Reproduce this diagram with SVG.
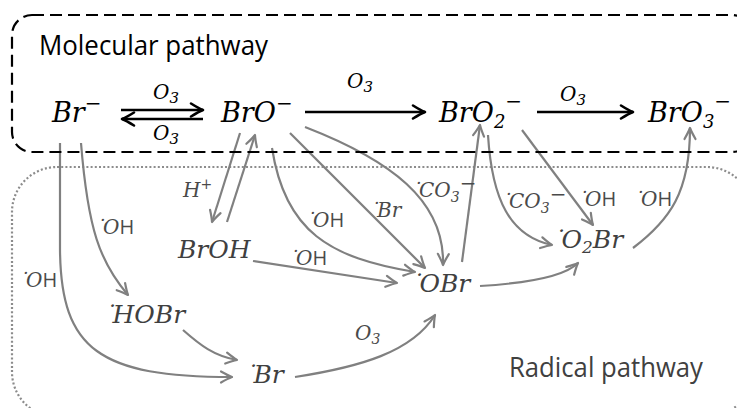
<svg xmlns="http://www.w3.org/2000/svg" width="737" height="408" viewBox="0 0 737 408">
  <style>
    .mol { font-family: "DejaVu Serif", serif; font-style: italic; font-size: 27px; fill: #000; }
    .rad { font-family: "DejaVu Serif", serif; font-style: italic; font-size: 25px; fill: #404040; }
    .lbl { font-family: "DejaVu Serif", serif; font-style: italic; font-size: 20px; fill: #4a4a4a; }
    .lblk { font-family: "DejaVu Serif", serif; font-style: italic; font-size: 20px; fill: #000; }
    .sans { font-family: "Open Sans", "Liberation Sans", sans-serif; font-style: normal; }
    .title { font-family: "Open Sans", "Liberation Sans", sans-serif; font-size: 27px; }
    .ld { letter-spacing: -3px; }
    .rd { letter-spacing: -4px; }
    .gc { fill: none; stroke: #808080; stroke-width: 2.2; marker-end: url(#ag); }
    .bc { fill: none; stroke: #000; stroke-width: 2.6; marker-end: url(#ab); }
  </style>
  <defs>
    <marker id="ag" viewBox="-13 -8 16 16" markerWidth="16" markerHeight="16" refX="0" refY="0" orient="auto" markerUnits="userSpaceOnUse">
      <path d="M-11,-5.5 Q-4,-1.5 0,0 Q-4,1.5 -11,5.5" fill="none" stroke="#808080" stroke-width="2.2" stroke-linecap="round" stroke-linejoin="round"/>
    </marker>
    <marker id="ab" viewBox="-15 -9 18 18" markerWidth="18" markerHeight="18" refX="0" refY="0" orient="auto" markerUnits="userSpaceOnUse">
      <path d="M-12,-6.5 Q-4,-1.5 0,0 Q-4,1.5 -12,6.5" fill="none" stroke="#000" stroke-width="2.6" stroke-linecap="round" stroke-linejoin="round"/>
    </marker>
  </defs>

  <!-- pathway frames -->
  <g id="radical-frame">
    <rect x="12" y="167" width="740" height="250" rx="45" ry="45" fill="none" stroke="#8c8c8c" stroke-width="2.2" stroke-dasharray="2 2.2"/>
    <text class="title" x="509" y="377" fill="#404040" textLength="194" lengthAdjust="spacingAndGlyphs">Radical pathway</text>
  </g>

  <!-- connectors -->
  <g id="connectors">
    <!-- molecular (ozone) steps -->
    <path class="bc" d="M121,110 L203,110"/>
    <path class="bc" d="M203,119 L122,119"/>
    <path class="bc" d="M305,112 L425,112"/>
    <path class="bc" d="M537,112 L633,112"/>
    <!-- radical steps -->
    <path class="gc" d="M60,143 L60,250 C61,350 100,377 232,377"/>
    <path class="gc" d="M81,143 C88,230 100,262 128,295"/>
    <path class="gc" d="M183,330 C200,345 214,356 237,360"/>
    <path class="gc" d="M295,377 C360,367 412,352 435,315"/>
    <path class="gc" d="M240,133 L212,222"/>
    <path class="gc" d="M227,222 L255,135"/>
    <path class="gc" d="M272,148 C285,232 330,258 415,272"/>
    <path class="gc" d="M253,261 L397,283"/>
    <path class="gc" d="M290,133 L425,268"/>
    <path class="gc" d="M305,127 C390,160 445,200 443,265"/>
    <path class="gc" d="M462,262 L480,125"/>
    <path class="gc" d="M488,135 C492,200 510,236 552,245"/>
    <path class="gc" d="M522,130 L593,225"/>
    <path class="gc" d="M480,286 C530,283 565,276 578,263"/>
    <path class="gc" d="M633,248 C670,220 690,192 690,128"/>
  </g>

  <g id="molecular-frame">
    <rect x="12" y="15" width="740" height="137" rx="20" ry="20" fill="none" stroke="#000" stroke-width="2.2" stroke-dasharray="12 6"/>
    <text class="title" x="39" y="55" fill="#000" textLength="229" lengthAdjust="spacingAndGlyphs">Molecular pathway</text>
  </g>

  <!-- reaction labels -->
  <g id="labels">
    <text class="lblk" x="153" y="99">O<tspan font-size="15" dy="4">3</tspan></text>
    <text class="lblk" x="153" y="140">O<tspan font-size="15" dy="4">3</tspan></text>
    <text class="lblk" x="347" y="88">O<tspan font-size="15" dy="4">3</tspan></text>
    <text class="lblk" x="560" y="101">O<tspan font-size="15" dy="4">3</tspan></text>

    <text class="lbl" x="96" y="234"><tspan class="ld">˙</tspan>O<tspan class="sans">H</tspan></text>
    <text class="lbl" x="19" y="287"><tspan class="ld">˙</tspan>O<tspan class="sans">H</tspan></text>
    <text class="lbl" x="306" y="227"><tspan class="ld">˙</tspan>O<tspan class="sans">H</tspan></text>
    <text class="lbl" x="289" y="265"><tspan class="ld">˙</tspan>O<tspan class="sans">H</tspan></text>
    <text class="lbl" x="370" y="217"><tspan class="ld">˙</tspan>Br</text>
    <text class="lbl" x="412" y="197"><tspan class="ld">˙</tspan>CO<tspan font-size="14" dy="5">3</tspan><tspan dy="-12">−</tspan></text>
    <text class="lbl" x="183" y="197">H<tspan font-size="14" dy="-8">+</tspan></text>
    <text class="lbl" x="502" y="208"><tspan class="ld">˙</tspan>CO<tspan font-size="14" dy="5">3</tspan><tspan dy="-12">−</tspan></text>
    <text class="lbl" x="578" y="206"><tspan class="ld">˙</tspan>O<tspan class="sans">H</tspan></text>
    <text class="lbl" x="634" y="206"><tspan class="ld">˙</tspan>O<tspan class="sans">H</tspan></text>
    <text class="lbl" x="355" y="340">O<tspan font-size="14" dy="4">3</tspan></text>
  </g>

  <!-- molecular species -->
  <g id="bromide">
    <text class="mol" x="52" y="122">Br<tspan font-size="20" dy="-12">−</tspan></text>
  </g>
  <g id="hypobromite">
    <text class="mol" x="221" y="122">BrO<tspan font-size="20" dy="-12">−</tspan></text>
  </g>
  <g id="bromite">
    <text class="mol" x="439" y="122">BrO<tspan font-size="18" dy="6">2</tspan><tspan font-size="20" dy="-20">−</tspan></text>
  </g>
  <g id="bromate">
    <text class="mol" x="648" y="122">BrO<tspan font-size="18" dy="6">3</tspan><tspan font-size="20" dy="-20">−</tspan></text>
  </g>

  <!-- radical species -->
  <g id="hypobromous-acid">
    <text class="rad" x="178" y="258">BrOH</text>
  </g>
  <g id="hobr-radical">
    <text class="rad" x="104" y="323"><tspan class="rd">˙</tspan>HOBr</text>
  </g>
  <g id="br-radical">
    <text class="rad" x="245" y="383"><tspan class="rd">˙</tspan>Br</text>
  </g>
  <g id="obr-radical">
    <text class="rad" x="411" y="292"><tspan class="rd">˙</tspan>OBr</text>
  </g>
  <g id="o2br-radical">
    <text class="rad" x="553" y="248"><tspan class="rd">˙</tspan>O<tspan font-size="17" dy="5">2</tspan><tspan dy="-5">Br</tspan></text>
  </g>
</svg>
